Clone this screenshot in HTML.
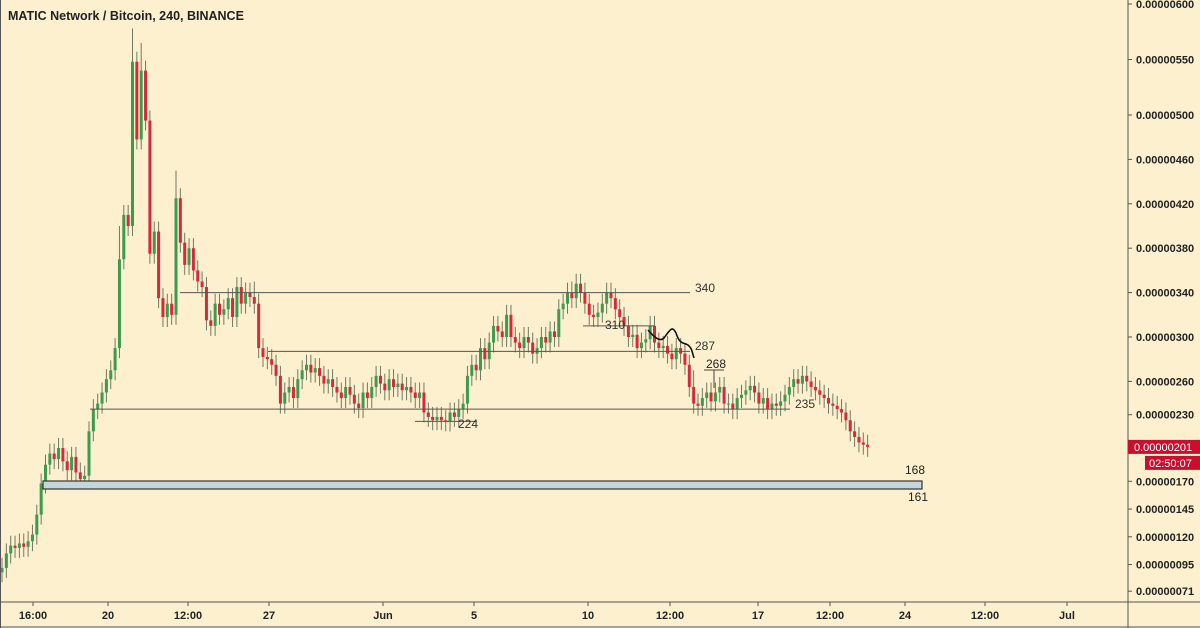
<!DOCTYPE html>
<html><head><meta charset="utf-8"><style>
body{margin:0;width:1200px;height:628px;overflow:hidden;background:#fdf0cf;font-family:"Liberation Sans",sans-serif}
svg{position:absolute;left:0;top:0}
</style></head><body>
<svg width="1200" height="628">
<rect x="0" y="0" width="1200" height="628" fill="#fdf0cf"/>
<g id="marks"></g>
<g id="ann"></g>
<g id="yaxis"></g>
<g id="xaxis"></g>
<text x="8" y="20" font-size="12.5" font-weight="bold" fill="#222">MATIC Network / Bitcoin, 240, BINANCE</text>
</svg>
<script>
const closes=[92,105,112,110,114,111,116,122,140,168,
185,195,190,200,188,180,192,178,172,175,
215,235,240,250,262,270,290,370,410,400,
548,478,540,495,375,395,335,318,330,320,
425,385,365,380,360,350,345,315,310,330,
320,325,335,318,345,330,340,336,330,290,
282,280,275,265,240,250,255,245,262,270,
275,268,272,265,258,262,255,250,245,255,
248,240,236,250,245,255,265,258,252,262,
255,258,252,255,250,245,250,232,228,225,
228,225,224,232,228,235,240,265,275,270,
290,280,295,310,305,300,320,300,295,290,
300,295,285,290,300,295,305,300,325,330,
340,335,348,340,330,320,318,322,330,340,
335,325,318,310,300,302,290,295,298,310,
295,290,292,285,280,290,285,275,255,240,
238,245,250,242,250,255,240,240,235,245,
248,252,256,250,240,245,235,240,238,242,
248,255,262,258,265,260,255,252,248,245,
240,238,235,232,225,215,210,205,203,201];
const spikeIdx=[30,32,40,34,27,58,131,159,193];
const spikeHigh=[578,565,450,420,400,350,350,270,215];
const yTicks=[600,550,500,460,420,380,340,300,260,230,170,145,120,95,71];
const xTickLabels=["16:00","20","12:00","27","Jun","5","10","12:00","17","12:00","24","12:00","Jul"];
const xTickPos=[33,108,188,269,383,474,588,670,758,830,905,985,1067];
const levels=[340,287,235,224,310];
const levelLabels=["340","287","235","224","310"];
const NS="http://www.w3.org/2000/svg";
function y(p){return 4+(600-p)*1.11;}
function x(i){return 2+i*4.35;}
function mk(tag,attrs,parent){const e=document.createElementNS(NS,tag);for(const k in attrs)e.setAttribute(k,attrs[k]);parent.appendChild(e);return e;}
const g=document.getElementById('marks');
for(let i=0;i<closes.length;i++){
  const o=i?closes[i-1]:closes[0]-4,c=closes[i];
  let hi=Math.max(o,c)+9,lo=Math.min(o,c)-9;
  const si=spikeIdx.indexOf(i); if(si>=0)hi=Math.max(hi,spikeHigh[si]);
  const col=c>=o?'#3c9b4c':'#d42a3c';
  const cg=mk('g',{},g);
  
  
  mk('line',{x1:x(i),x2:x(i),y1:y(hi),y2:y(lo),stroke:'#707a60','stroke-width':1},cg);
  mk('rect',{x:x(i)-1.5,y:Math.min(y(o),y(c)),width:3,height:Math.max(1,Math.abs(y(o)-y(c))),fill:col},cg);
}
const a=document.getElementById('ann');
const lvlX=[[180,690,695,292],[268,690,695,350],[90,790,795,408],[415,477,458,428],[583,655,605,329]];
levels.forEach((v,k)=>{
  const L=lvlX[k];
  const l=mk('line',{x1:L[0],x2:L[1],y1:y(v),y2:y(v),stroke:'#555','stroke-width':1},a);
  
  
  const t=mk('text',{x:L[2],y:L[3],'font-size':12,fill:'#333'},a);t.textContent=levelLabels[k];
  
  
});
const z=mk('rect',{x:43,y:481,width:879,height:8,fill:'#c5d6dc',stroke:'#333','stroke-width':1.2},a);


[["168",905,474],["161",908,501],["268",706,368]].forEach(d=>{const t=mk('text',{x:d[1],y:d[2],'font-size':12,fill:'#222'},a);t.textContent=d[0];

});
mk('line',{x1:704,x2:724,y1:370,y2:370,stroke:'#444'},a);
mk('line',{x1:714,x2:714,y1:370,y2:388,stroke:'#444'},a);
const cv=mk('path',{d:'M648,330 C655,338 660,342 664,338 C670,330 672,325 676,333 C680,345 683,342 688,345 C692,348 692,352 694,358',fill:'none',stroke:'#111','stroke-width':1.6},a);


const ya=document.getElementById('yaxis');
mk('line',{x1:1128,x2:1128,y1:0,y2:628,stroke:'#555'},ya);
yTicks.forEach(v=>{
  mk('line',{x1:1128,x2:1132,y1:y(v),y2:y(v),stroke:'#555'},ya);
  const t=mk('text',{x:1136,y:y(v)+4,'font-size':11,fill:'#222','font-weight':'bold'},ya);
  t.textContent='0.'+String(v).padStart(8,'0');
  
  
});
const pr=mk('rect',{x:1128,y:y(201)-7,width:72,height:14,fill:'#c8102e'},ya);


let t=mk('text',{x:1134,y:y(201)+4,'font-size':11,fill:'#fff'},ya);t.textContent='0.00000201';
mk('rect',{x:1145,y:y(201)+9,width:55,height:14,fill:'#c8102e'},ya);
t=mk('text',{x:1149,y:y(201)+20,'font-size':11,fill:'#fff'},ya);t.textContent='02:50:07';


const xa=document.getElementById('xaxis');
mk('line',{x1:0,x2:1200,y1:602,y2:602,stroke:'#555'},xa);
mk('line',{x1:0,x2:1200,y1:627,y2:627,stroke:'#555'},xa);
mk('line',{x1:0.5,x2:0.5,y1:0,y2:628,stroke:'#555'},xa);
xTickLabels.forEach((s,k)=>{
  mk('line',{x1:xTickPos[k],x2:xTickPos[k],y1:602,y2:606,stroke:'#555'},xa);
  const t=mk('text',{x:xTickPos[k],y:619,'font-size':11,fill:'#222','font-weight':'bold','text-anchor':'middle'},xa);t.textContent=s;
  
  
});
</script>
</body></html>
